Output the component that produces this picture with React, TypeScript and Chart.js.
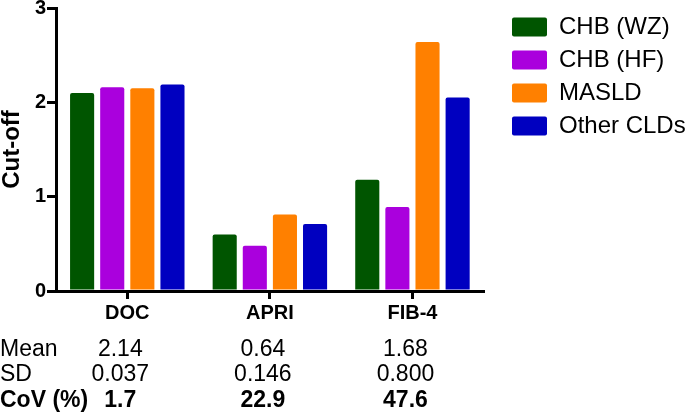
import React, { useEffect, useRef } from "react";
import { Chart, registerables } from "chart.js";

Chart.register(...registerables);

const categories = ["DOC", "APRI", "FIB-4"];
const seriesNames = ["CHB (WZ)", "CHB (HF)", "MASLD", "Other CLDs"];
const chbWZ = [2.1, 0.6, 1.18];
const chbHF = [2.16, 0.48, 0.89];
const masld = [2.15, 0.81, 2.64];
const otherCLDs = [2.19, 0.71, 2.05];
const seriesColors = ["#005500", "#AA00DD", "#FF8000", "#0000C0"];

const statLabels = ["Mean", "SD", "CoV (%)"];
const meanValues = ["2.14", "0.64", "1.68"];
const sdValues = ["0.037", "0.146", "0.800"];
const covValues = ["1.7", "22.9", "47.6"];

const FONT = "'Liberation Sans', Arial, Helvetica, sans-serif";

const legendPlacer = {
  id: "legendPlacer",
  afterLayout(chart: any) {
    const l = chart.legend;
    if (!l) return;
    const h = l.height;
    l.left = 503;
    l.right = 685;
    l.top = 6;
    l.bottom = 6 + h;
  },
};

const statsTable = {
  id: "statsTable",
  afterDraw(chart: any) {
    const ctx = chart.ctx;
    const xs = chart.scales.x;
    const bottom = chart.chartArea.bottom;
    const rows = [meanValues, sdValues, covValues];
    const offsets = [65, 90, 116];
    ctx.save();
    ctx.fillStyle = "#000";
    ctx.textBaseline = "alphabetic";
    rows.forEach((row, r) => {
      ctx.font = `${r === 2 ? "bold " : ""}23px ${FONT}`;
      const y = bottom + offsets[r];
      ctx.textAlign = "left";
      ctx.fillText(statLabels[r], 0, y);
      ctx.textAlign = "center";
      row.forEach((v, i) => {
        ctx.fillText(v, xs.getPixelForValue(i) - 7, y);
      });
    });
    ctx.restore();
  },
};

export default function App() {
  const ref = useRef<HTMLCanvasElement>(null);

  useEffect(() => {
    if (!ref.current) return;
    const values = [chbWZ, chbHF, masld, otherCLDs];
    const chart = new Chart(ref.current, {
      type: "bar",
      data: {
        labels: categories,
        datasets: seriesNames.map((name, i) => ({
          label: name,
          data: values[i],
          backgroundColor: seriesColors[i],
          borderWidth: 0,
          borderRadius: 2,
          categoryPercentage: 0.845,
          barPercentage: 0.8,
        })),
      },
      options: {
        responsive: false,
        animation: false,
        layout: { padding: { top: 7, right: 40, bottom: 84, left: 0 } },
        plugins: {
          tooltip: { enabled: false },
          legend: {
            position: "right",
            align: "start",
            labels: {
              boxWidth: 35,
              boxHeight: 19,
              padding: 9,
              color: "#000",
              useBorderRadius: true,
              borderRadius: 2,
              font: { family: FONT, size: 24 },
            },
          },
        },
        scales: {
          x: {
            afterFit: (s: any) => {
              s.height = 40;
            },
            grid: {
              display: true,
              offset: false,
              drawOnChartArea: false,
              drawTicks: true,
              tickLength: 8,
              color: "#000",
              lineWidth: 3,
            },
            border: { display: true, color: "#000", width: 3 },
            ticks: {
              color: "#000",
              padding: 2,
              font: { family: FONT, size: 20, weight: "bold" },
            },
          },
          y: {
            min: 0,
            max: 3,
            afterFit: (s: any) => {
              s.width = 56;
            },
            grid: {
              display: true,
              drawOnChartArea: false,
              drawTicks: true,
              tickLength: 9,
              color: "#000",
              lineWidth: 3,
            },
            border: { display: true, color: "#000", width: 3 },
            ticks: {
              stepSize: 1,
              color: "#000",
              padding: 1,
              font: { family: FONT, size: 20, weight: "bold", lineHeight: 0.7 },
            },
            title: {
              display: true,
              text: "Cut-off",
              color: "#000",
              padding: 0,
              font: { family: FONT, size: 24, weight: "bold", lineHeight: 1.0 },
            },
          },
        },
      },
      plugins: [legendPlacer, statsTable],
    });
    return () => chart.destroy();
  }, []);

  return (
    <div style={{ position: "absolute", left: 0, top: 0, width: 685, height: 415, background: "#fff" }}>
      <canvas ref={ref} width={685} height={415} />
    </div>
  );
}
